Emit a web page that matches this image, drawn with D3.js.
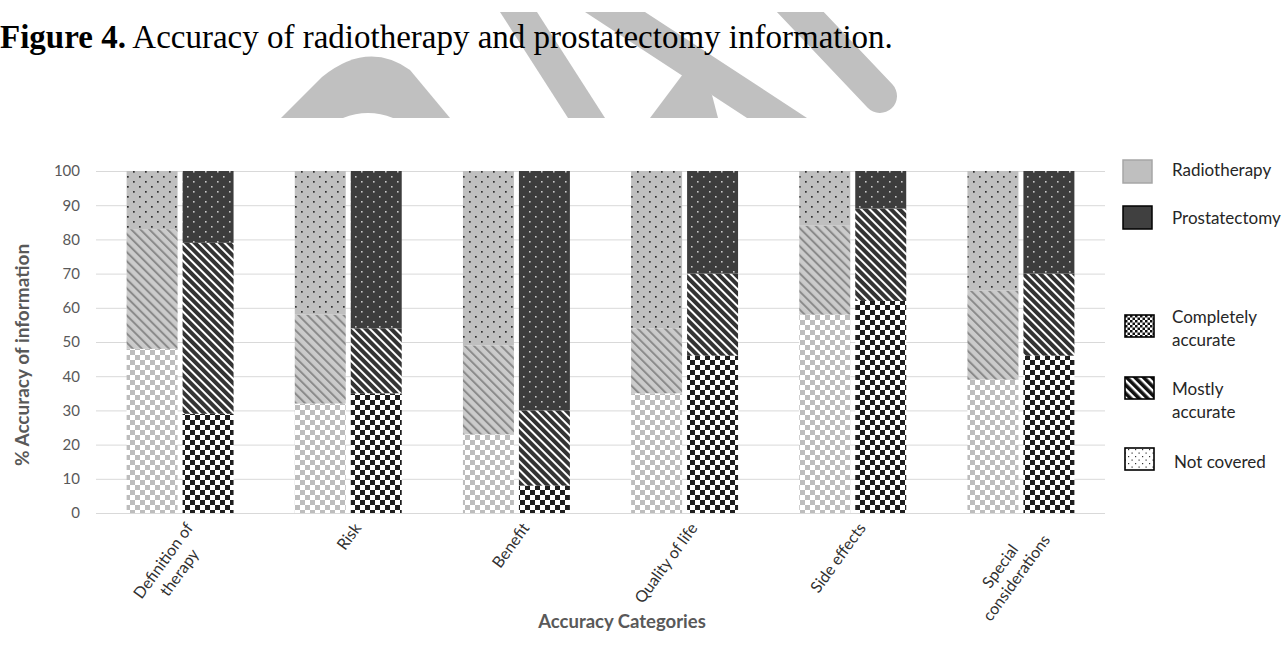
<!DOCTYPE html>
<html>
<head>
<meta charset="utf-8">
<script src="https://cdn.jsdelivr.net/npm/d3@7"></script>
<style>
  body { margin: 0; background: #fff; }
  svg { display: block; }
</style>
</head>
<body>
<svg id="chart" width="1285" height="656"></svg>
<script>
// ---- data ----
const categories = ["Definition of therapy", "Risk", "Benefit", "Quality of life", "Side effects", "Special considerations"];
const categoryLines = [["Definition of", "therapy"], ["Risk"], ["Benefit"], ["Quality of life"], ["Side effects"], ["Special", "considerations"]];
const therapies = ["Radiotherapy", "Prostatectomy"];
const levels = ["Completely accurate", "Mostly accurate", "Not covered"];

const radioCompletely = [48, 32, 23, 35, 58, 39];
const radioMostly     = [35, 26, 26, 19, 26, 26];
const radioNotCovered = [17, 42, 51, 46, 16, 35];

const prostCompletely = [29, 35, 8, 46, 62, 46];
const prostMostly     = [50, 19, 22, 24, 27, 24];
const prostNotCovered = [21, 46, 70, 30, 11, 30];

const yTicks = [0, 10, 20, 30, 40, 50, 60, 70, 80, 90, 100];

const svg = d3.select("#chart");
const defs = svg.append("defs");

// ---- fill patterns (excel-ish) ----
function checker(id, c1, c2, s) {
  const p = defs.append("pattern").attr("id", id).attr("patternUnits", "userSpaceOnUse")
    .attr("width", s * 2).attr("height", s * 2);
  p.append("rect").attr("width", s * 2).attr("height", s * 2).attr("fill", c2);
  p.append("rect").attr("width", s).attr("height", s).attr("fill", c1);
  p.append("rect").attr("x", s).attr("y", s).attr("width", s).attr("height", s).attr("fill", c1);
}
function stripes(id, bg, fg, w, lw) {
  const p = defs.append("pattern").attr("id", id).attr("patternUnits", "userSpaceOnUse")
    .attr("width", w).attr("height", w).attr("patternTransform", "rotate(-45)");
  p.append("rect").attr("width", w).attr("height", w).attr("fill", bg);
  p.append("rect").attr("width", lw).attr("height", w).attr("fill", fg);
}
function dots(id, bg, fg, w, h, r) {
  const p = defs.append("pattern").attr("id", id).attr("patternUnits", "userSpaceOnUse")
    .attr("width", w).attr("height", h);
  p.append("rect").attr("width", w).attr("height", h).attr("fill", bg);
  p.append("rect").attr("x", 1).attr("y", 1).attr("width", r).attr("height", r).attr("fill", fg);
  p.append("rect").attr("x", 1 + w / 2).attr("y", 1 + h / 2).attr("width", r).attr("height", r).attr("fill", fg);
}
checker("Radiotherapy-0", "#bdbdbd", "#ffffff", 5);
stripes("Radiotherapy-1", "#cbcbcb", "#8a8a8a", 6.4, 2);
dots("Radiotherapy-2", "#bfbfbf", "#303030", 12, 10, 1.7);
checker("Prostatectomy-0", "#1e1e1e", "#ffffff", 5);
stripes("Prostatectomy-1", "#ffffff", "#333333", 6, 4);
dots("Prostatectomy-2", "#3d3d3d", "#c8c8c8", 12, 10, 1.6);
checker("leg-0", "#111111", "#ffffff", 2.5);
stripes("leg-1", "#ffffff", "#111111", 6, 3.6);
dots("leg-2", "#ffffff", "#333333", 7, 7, 1.2);

// ---- watermark behind the title ----
defs.append("clipPath").attr("id", "wmclip")
  .append("rect").attr("x", 0).attr("y", 12).attr("width", 1285).attr("height", 106);
const wm = svg.append("g").attr("clip-path", "url(#wmclip)").attr("fill", "#c0c0c0");
wm.append("path").attr("d", "M281,118 L322,77 Q368,40 410,70 L450,118 Z");
wm.append("path").attr("d", "M343,118 Q368,108 393,118 Z").attr("fill", "#fff");
wm.append("path").attr("d", "M500,12 L537,12 L605,118 L568,118 Z");
wm.append("path").attr("d", "M585,12 L645,12 L807,118 L747,118 Z");
wm.append("path").attr("d", "M650,118 L718,118 L712,95 L686,70 Z");
wm.append("line").attr("x1", 770).attr("y1", -20).attr("x2", 880).attr("y2", 96)
  .attr("stroke", "#c0c0c0").attr("stroke-width", 34).attr("stroke-linecap", "round");

// ---- title ----
const title = svg.append("text").attr("x", 0).attr("y", 48)
  .attr("font-family", "Liberation Serif, Times New Roman, serif").attr("font-size", 33).attr("fill", "#000");
title.append("tspan").attr("font-weight", "bold").text("Figure 4.");
title.append("tspan").text(" Accuracy of radiotherapy and prostatectomy information.");

// ---- scales ----
const y = d3.scaleLinear().domain([0, 100]).range([513, 171]);
const x0 = d3.scaleBand().domain(categories).range([96, 1105]).paddingInner(0.364).paddingOuter(0.182);
const x1 = d3.scaleBand().domain(therapies).range([0, x0.bandwidth()]).paddingInner(0.0893);

const font = "Lato, Carlito, Calibri, sans-serif";

// gridlines
svg.append("g").selectAll("line").data(yTicks).join("line")
  .attr("x1", 96).attr("x2", 1105)
  .attr("y1", d => y(d) + 0.5).attr("y2", d => y(d) + 0.5)
  .attr("stroke", "#d9d9d9").attr("stroke-width", 1);

// y axis
const yAxis = svg.append("g").attr("transform", "translate(80,0)")
  .call(d3.axisLeft(y).tickValues(yTicks).tickSize(0).tickPadding(0));
yAxis.select(".domain").remove();
yAxis.selectAll("text").attr("font-family", font).attr("font-size", 15).attr("fill", "#595959");

svg.append("text").attr("transform", "translate(29,355) rotate(-90)")
  .attr("text-anchor", "middle").attr("font-family", font).attr("font-size", 19)
  .attr("font-weight", "bold").attr("fill", "#595959").text("% Accuracy of information");

// ---- bars ----
const series = {
  Radiotherapy: [radioCompletely, radioMostly, radioNotCovered],
  Prostatectomy: [prostCompletely, prostMostly, prostNotCovered]
};
therapies.forEach(t => {
  const rows = categories.map((c, i) => {
    const r = { cat: c };
    levels.forEach((l, k) => r[l] = series[t][k][i]);
    return r;
  });
  const stacked = d3.stack().keys(levels)(rows);
  svg.append("g").selectAll("g").data(stacked).join("g")
    .attr("fill", (d, k) => `url(#${t}-${k})`)
    .selectAll("rect").data(d => d).join("rect")
    .attr("x", d => x0(d.data.cat) + x1(t))
    .attr("width", x1.bandwidth())
    .attr("y", d => y(d[1]))
    .attr("height", d => y(d[0]) - y(d[1]));
});

// ---- x labels ----
const xl = svg.append("g").selectAll("g").data(categories).join("g")
  .attr("transform", d => `translate(${x0(d) + x0.bandwidth() / 2 + 4},521) rotate(-54)`);
xl.each(function (d, i) {
  const g = d3.select(this);
  const lines = categoryLines[i];
  const txt = lines.map((s, j) => g.append("text").attr("font-family", font).attr("font-size", 16)
    .attr("fill", "#303030").attr("text-anchor", "middle").attr("y", 12 + j * 20).text(s));
  const w = d3.max(txt, t => t.node().getComputedTextLength());
  txt.forEach(t => t.attr("x", -w / 2));
});

svg.append("text").attr("x", 622).attr("y", 628).attr("text-anchor", "middle")
  .attr("font-family", font).attr("font-size", 18.5).attr("font-weight", "bold")
  .attr("fill", "#595959").text("Accuracy Categories");

// ---- legend ----
const leg = svg.append("g").attr("font-family", font).attr("font-size", 17).attr("fill", "#262626");
const legendTherapy = [
  { name: therapies[0], y: 160, ty: 176, fill: "#bfbfbf", stroke: "#a6a6a6" },
  { name: therapies[1], y: 206, ty: 224, fill: "#404040", stroke: "#000" }
];
legendTherapy.forEach(d => {
  leg.append("rect").attr("x", 1123).attr("y", d.y).attr("width", 29).attr("height", 23)
    .attr("fill", d.fill).attr("stroke", d.stroke).attr("stroke-width", 1.5);
  leg.append("text").attr("x", 1172).attr("y", d.ty).text(d.name);
});
const legendLevels = [
  { lines: ["Completely", "accurate"], y: 315, ty: 323, id: "leg-0" },
  { lines: ["Mostly", "accurate"], y: 377, ty: 395, id: "leg-1" },
  { lines: ["Not covered"], y: 448, ty: 468, id: "leg-2" }
];
legendLevels.forEach(d => {
  leg.append("rect").attr("x", 1125).attr("y", d.y).attr("width", 29).attr("height", 22)
    .attr("fill", `url(#${d.id})`).attr("stroke", "#000").attr("stroke-width", 1.6);
  d.lines.forEach((s, j) => leg.append("text")
    .attr("x", d.lines.length === 1 ? 1174 : 1172).attr("y", d.ty + j * 23).text(s));
});
</script>
</body>
</html>
